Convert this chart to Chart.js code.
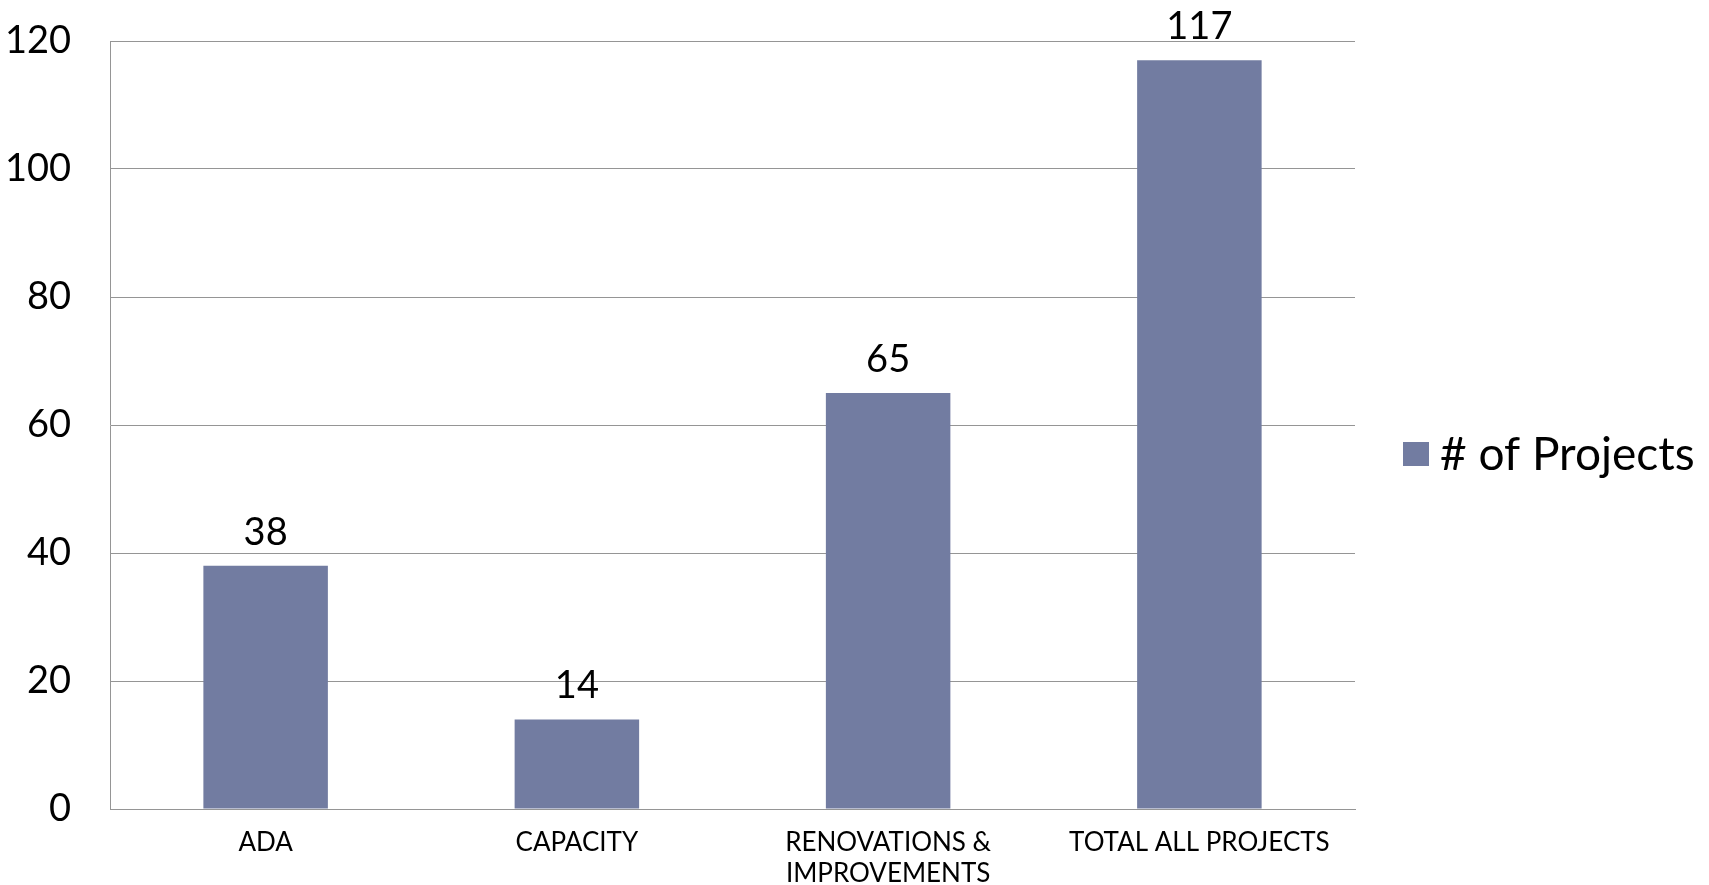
<!DOCTYPE html>
<html>
<head>
<meta charset="utf-8">
<script src="https://cdn.jsdelivr.net/npm/chart.js@4"></script>
<style>
  html, body { margin: 0; padding: 0; background: #fff; }
  .chart-wrapper { width: 1709px; height: 885px; }
</style>
</head>
<body>
<div class="chart-wrapper"><canvas id="projects"></canvas></div>
<script>
const categories = ['ADA', 'CAPACITY', ['RENOVATIONS &', 'IMPROVEMENTS'], 'TOTAL ALL PROJECTS'];
const projectCounts = [38, 14, 65, 117];
const seriesLabel = '# of Projects';
const yMax = 120;
const yStep = 20;

const barColor = '#727ca1';
const gridColor = '#959595';
const fontFamily = 'Lato, "Open Sans", sans-serif';

// values above each bar
const valueLabels = {
  id: 'valueLabels',
  afterDatasetsDraw(chart) {
    const ctx = chart.ctx;
    const meta = chart.getDatasetMeta(0);
    ctx.save();
    ctx.font = `38px ${fontFamily}`;
    ctx.fillStyle = '#000';
    ctx.textAlign = 'center';
    ctx.textBaseline = 'alphabetic';
    meta.data.forEach((bar, i) => {
      ctx.fillText(String(chart.data.datasets[0].data[i]), bar.x, bar.y - 21);
    });
    ctx.restore();
  },
};

// legend sitting right of the plot, a bit below its middle
const sideLegend = {
  id: 'sideLegend',
  afterDraw(chart) {
    const ctx = chart.ctx;
    const ds = chart.data.datasets[0];
    const x = chart.chartArea.right + 48;
    const y = (chart.chartArea.top + chart.chartArea.bottom) / 2 + 29;
    ctx.save();
    ctx.fillStyle = ds.backgroundColor;
    ctx.fillRect(x, y - 12, 26, 24);
    ctx.font = `46px ${fontFamily}`;
    ctx.fillStyle = '#000';
    ctx.textBaseline = 'middle';
    ctx.fillText(ds.label, x + 37, y + 1);
    ctx.restore();
  },
};

new Chart(document.getElementById('projects'), {
  type: 'bar',
  data: {
    labels: categories,
    datasets: [{
      label: seriesLabel,
      data: projectCounts,
      backgroundColor: barColor,
      barPercentage: 0.4,
      categoryPercentage: 1.0,
    }],
  },
  options: {
    responsive: true,
    maintainAspectRatio: false,
    animation: false,
    layout: { padding: { top: 41, right: 354, bottom: 0, left: 0 } },
    plugins: {
      legend: { display: false },
      tooltip: { enabled: false },
    },
    scales: {
      x: {
        grid: { display: false },
        border: { display: true, color: gridColor, width: 1 },
        ticks: {
          color: '#000',
          font: { family: fontFamily, size: 26, lineHeight: 1.2 },
          padding: 10,
          maxRotation: 0,
          autoSkip: false,
        },
        afterFit(scale) {
          scale.height = 76;
          scale.paddingLeft = 0;
          scale.paddingRight = 0;
        },
      },
      y: {
        min: 0,
        max: yMax,
        grid: { color: gridColor, drawTicks: false, lineWidth: 1 },
        border: { display: true, color: gridColor, width: 1 },
        ticks: {
          stepSize: yStep,
          color: '#000',
          font: { family: fontFamily, size: 38 },
          padding: 39,
        },
        afterFit(scale) {
          scale.width = 110;
          scale.paddingTop = 0;
          scale.paddingBottom = 0;
        },
      },
    },
  },
  plugins: [valueLabels, sideLegend],
});
</script>
</body>
</html>
